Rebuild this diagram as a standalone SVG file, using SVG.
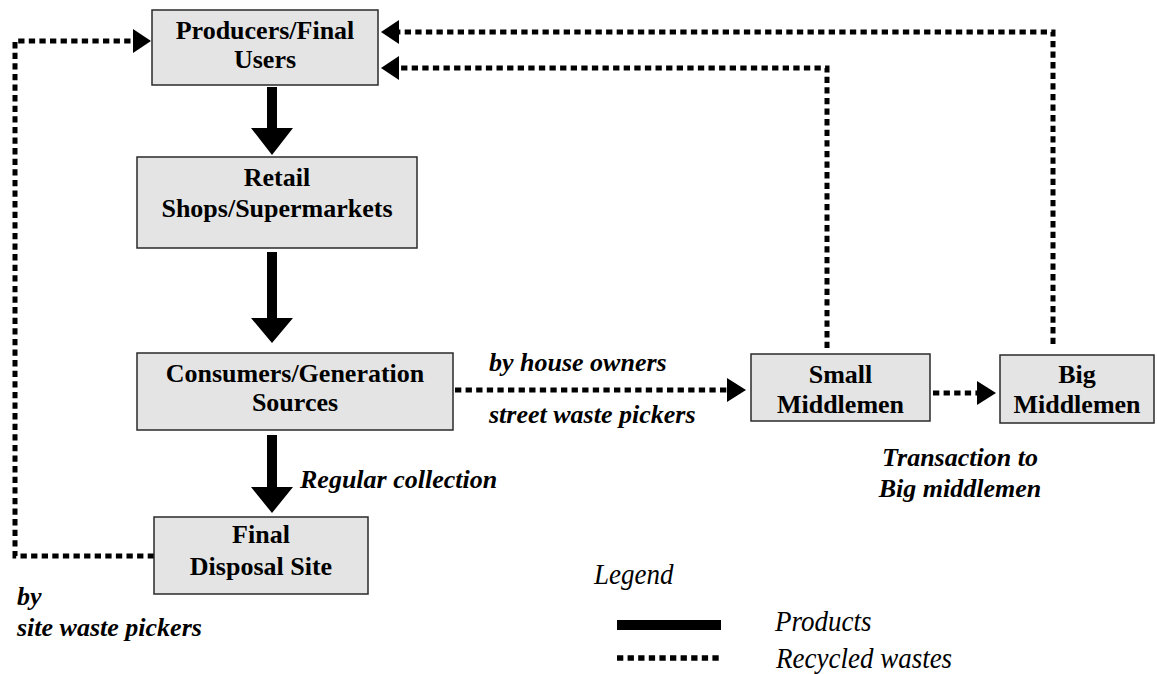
<svg xmlns="http://www.w3.org/2000/svg" width="1157" height="674" viewBox="0 0 1157 674">
  <style>
    .box { fill: #e4e4e4; stroke: #2a2a2a; stroke-width: 1.5; }
    .bt { font-family: "Liberation Serif", "Times New Roman", serif; font-weight: bold; font-size: 26px; fill: #000; text-anchor: middle; }
    .lbl { font-family: "Liberation Serif", "Times New Roman", serif; font-weight: bold; font-style: italic; font-size: 26px; fill: #000; }
    .leg { font-family: "Liberation Serif", "Times New Roman", serif; font-style: italic; font-size: 27px; fill: #000; }
    .dot { fill: none; stroke: #000; stroke-width: 5; stroke-dasharray: 6.3 4.3; stroke-linecap: butt; }
    .solid { fill: #000; stroke: none; }
    .head { fill: #000; stroke: none; }
  </style>
  <rect width="1157" height="674" fill="#ffffff"/>

  <g id="connectors">
    <!-- solid product arrows -->
    <polygon class="solid" points="267,87 277,87 277,128 293,128 272,155 251,128 267,128"/>
    <polygon class="solid" points="267,252 277,252 277,318 293,318 272,343 251,318 267,318"/>
    <polygon class="solid" points="267,435 277,435 277,487 293,487 272,513 251,487 267,487"/>
    <!-- recycled waste dotted arrows -->
    <path class="dot" d="M154,556 H15 V41 H133"/>
    <polygon class="head" points="133,29 151,41 133,53"/>
    <path class="dot" d="M455,390 H727"/>
    <polygon class="head" points="727,378 746,390 727,402"/>
    <path class="dot" d="M933,393 H977"/>
    <polygon class="head" points="977,381 996,393 977,405"/>
    <path class="dot" d="M827,348 V68 H399"/>
    <polygon class="head" points="399,56 381,68 399,80"/>
    <path class="dot" d="M1053,344 V32 H399"/>
    <polygon class="head" points="399,20 381,32 399,44"/>
  </g>

  <g id="producers">
    <rect class="box" x="152" y="10" width="226" height="75"/>
    <text class="bt" x="265" y="39">Producers/Final</text>
    <text class="bt" x="265" y="68">Users</text>
  </g>
  <g id="retail">
    <rect class="box" x="137" y="157" width="280" height="91"/>
    <text class="bt" x="277" y="186">Retail</text>
    <text class="bt" x="277" y="217">Shops/Supermarkets</text>
  </g>
  <g id="consumers">
    <rect class="box" x="137" y="353" width="316" height="77"/>
    <text class="bt" x="295" y="382">Consumers/Generation</text>
    <text class="bt" x="295" y="411">Sources</text>
  </g>
  <g id="final">
    <rect class="box" x="154" y="517" width="214" height="77"/>
    <text class="bt" x="261" y="543">Final</text>
    <text class="bt" x="261" y="575">Disposal Site</text>
  </g>
  <g id="small">
    <rect class="box" x="751" y="354" width="179" height="67"/>
    <text class="bt" x="840.5" y="383">Small</text>
    <text class="bt" x="840.5" y="413">Middlemen</text>
  </g>
  <g id="big">
    <rect class="box" x="1000" y="355" width="154" height="68"/>
    <text class="bt" x="1077" y="383">Big</text>
    <text class="bt" x="1077" y="413">Middlemen</text>
  </g>

  <g id="labels">
    <text class="lbl" x="489" y="371">by house owners</text>
    <text class="lbl" x="489" y="423">street waste pickers</text>
    <text class="lbl" x="300" y="488">Regular collection</text>
    <text class="lbl" x="960" y="466" text-anchor="middle">Transaction to</text>
    <text class="lbl" x="960" y="497" text-anchor="middle">Big middlemen</text>
    <text class="lbl" x="17" y="605">by</text>
    <text class="lbl" x="17" y="636">site waste pickers</text>
  </g>

  <g id="legend">
    <text class="leg" transform="translate(594,584) scale(1,1.12)">Legend</text>
    <rect x="617" y="620" width="104" height="10" fill="#000"/>
    <text class="leg" transform="translate(775,631) scale(1,1.12)">Products</text>
    <path class="dot" d="M617,658 H721" style="stroke-width:5.5"/>
    <text class="leg" transform="translate(776,668) scale(1,1.12)">Recycled wastes</text>
  </g>
</svg>
